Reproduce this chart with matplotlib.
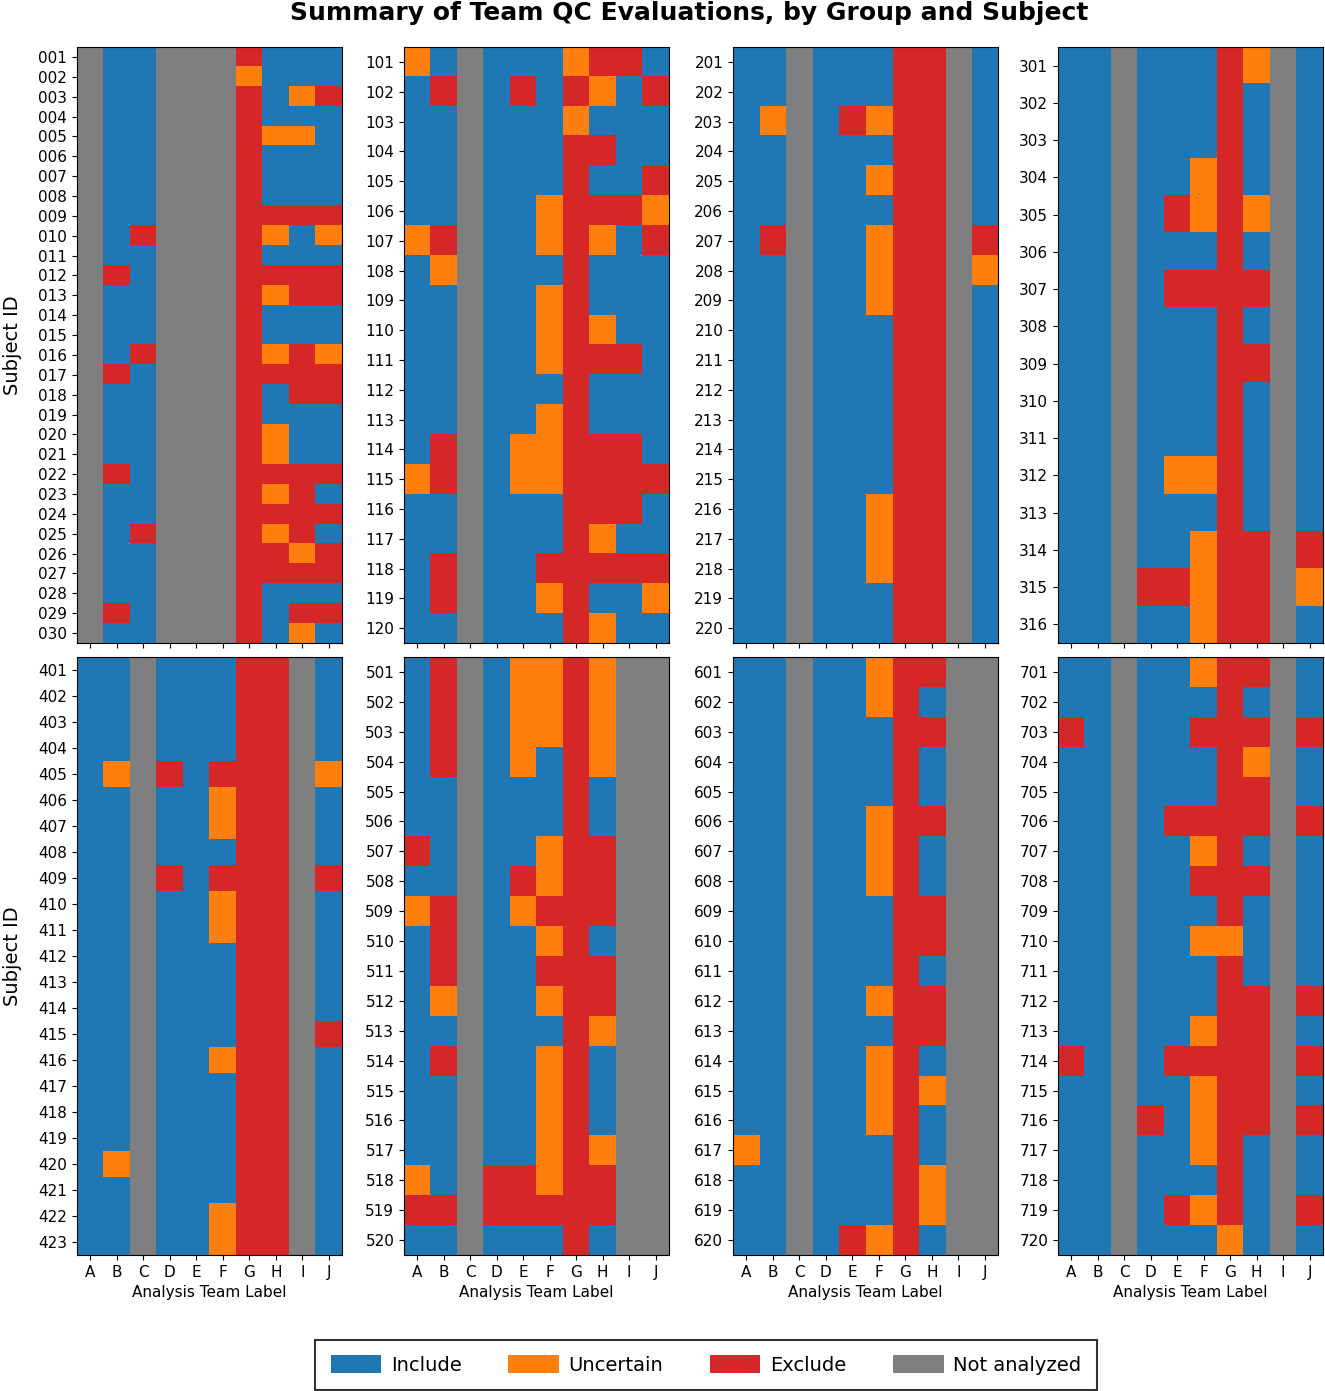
import matplotlib
matplotlib.use("Agg")
import matplotlib.pyplot as plt
import numpy as np
from matplotlib.colors import ListedColormap
from matplotlib.patches import Patch

# QC codes: I = Include, U = Uncertain, X = Exclude, N = Not analyzed
teams = ["A", "B", "C", "D", "E", "F", "G", "H", "I", "J"]
status_names = ["Include", "Uncertain", "Exclude", "Not analyzed"]
status_codes = ["I", "U", "X", "N"]
status_colors = ["#1f77b4", "#ff7f0e", "#d62728", "#7f7f7f"]

group0_ids = list(range(1, 31))
group0 = [
    "NIINNNXIII", "NIINNNUIII", "NIINNNXIUX", "NIINNNXIII", "NIINNNXUUI",
    "NIINNNXIII", "NIINNNXIII", "NIINNNXIII", "NIINNNXXXX", "NIXNNNXUIU",
    "NIINNNXIII", "NXINNNXXXX", "NIINNNXUXX", "NIINNNXIII", "NIINNNXIII",
    "NIXNNNXUXU", "NXINNNXXXX", "NIINNNXIXX", "NIINNNXIII", "NIINNNXUII",
    "NIINNNXUII", "NXINNNXXXX", "NIINNNXUXI", "NIINNNXXXX", "NIXNNNXUXI",
    "NIINNNXXUX", "NIINNNXXXX", "NIINNNXIII", "NXINNNXIXX", "NIINNNXIUI",
]

group1_ids = list(range(101, 121))
group1 = [
    "UINIIIUXXI", "IXNIXIXUIX", "IINIIIUIII", "IINIIIXXII", "IINIIIXIIX",
    "IINIIUXXXU", "UXNIIUXUIX", "IUNIIIXIII", "IINIIUXIII", "IINIIUXUII",
    "IINIIUXXXI", "IINIIIXIII", "IINIIUXIII", "IXNIUUXXXI", "UXNIUUXXXX",
    "IINIIIXXXI", "IINIIIXUII", "IXNIIXXXXX", "IXNIIUXIIU", "IINIIIXUII",
]

group2_ids = list(range(201, 221))
group2 = [
    "IINIIIXXNI", "IINIIIXXNI", "IUNIXUXXNI", "IINIIIXXNI", "IINIIUXXNI",
    "IINIIIXXNI", "IXNIIUXXNX", "IINIIUXXNU", "IINIIUXXNI", "IINIIIXXNI",
    "IINIIIXXNI", "IINIIIXXNI", "IINIIIXXNI", "IINIIIXXNI", "IINIIIXXNI",
    "IINIIUXXNI", "IINIIUXXNI", "IINIIUXXNI", "IINIIIXXNI", "IINIIIXXNI",
]

group3_ids = list(range(301, 317))
group3 = [
    "IINIIIXUNI", "IINIIIXINI", "IINIIIXINI", "IINIIUXINI", "IINIXUXUNI",
    "IINIIIXINI", "IINIXXXXNI", "IINIIIXINI", "IINIIIXXNI", "IINIIIXINI",
    "IINIIIXINI", "IINIUUXINI", "IINIIIXINI", "IINIIUXXNX", "IINXXUXXNU",
    "IINIIUXXNI",
]

group4_ids = list(range(401, 424))
group4 = [
    "IINIIIXXNI", "IINIIIXXNI", "IINIIIXXNI", "IINIIIXXNI", "IUNXIXXXNU",
    "IINIIUXXNI", "IINIIUXXNI", "IINIIIXXNI", "IINXIXXXNX", "IINIIUXXNI",
    "IINIIUXXNI", "IINIIIXXNI", "IINIIIXXNI", "IINIIIXXNI", "IINIIIXXNX",
    "IINIIUXXNI", "IINIIIXXNI", "IINIIIXXNI", "IINIIIXXNI", "IUNIIIXXNI",
    "IINIIIXXNI", "IINIIUXXNI", "IINIIUXXNI",
]

group5_ids = list(range(501, 521))
group5 = [
    "IXNIUUXUNN", "IXNIUUXUNN", "IXNIUUXUNN", "IXNIUIXUNN", "IINIIIXINN",
    "IINIIIXINN", "XINIIUXXNN", "IINIXUXXNN", "UXNIUXXXNN", "IXNIIUXINN",
    "IXNIIXXXNN", "IUNIIUXXNN", "IINIIIXUNN", "IXNIIUXINN", "IINIIUXINN",
    "IINIIUXINN", "IINIIUXUNN", "UINXXUXXNN", "XXNXXXXXNN", "IINIIIXINN",
]

group6_ids = list(range(601, 621))
group6 = [
    "IINIIUXXNN", "IINIIUXINN", "IINIIIXXNN", "IINIIIXINN", "IINIIIXINN",
    "IINIIUXXNN", "IINIIUXINN", "IINIIUXINN", "IINIIIXXNN", "IINIIIXXNN",
    "IINIIIXINN", "IINIIUXXNN", "IINIIIXXNN", "IINIIUXINN", "IINIIUXUNN",
    "IINIIUXINN", "UINIIIXINN", "IINIIIXUNN", "IINIIIXUNN", "IINIXUXINN",
]

group7_ids = list(range(701, 721))
group7 = [
    "IINIIUXXNI", "IINIIIXINI", "XINIIXXXNX", "IINIIIXUNI", "IINIIIXXNI",
    "IINIXXXXNX", "IINIIUXINI", "IINIIXXXNI", "IINIIIXINI", "IINIIUUINI",
    "IINIIIXINI", "IINIIIXXNX", "IINIIUXXNI", "XINIXXXXNX", "IINIIUXXNI",
    "IINXIUXXNX", "IINIIUXINI", "IINIIIXINI", "IINIXUXINX", "IINIIIUINI",
]

groups = [
    (group0_ids, group0), (group1_ids, group1), (group2_ids, group2), (group3_ids, group3),
    (group4_ids, group4), (group5_ids, group5), (group6_ids, group6), (group7_ids, group7),
]

W, H = 1325, 1391
fig = plt.figure(figsize=(W / 100, H / 100), dpi=100)
cmap = ListedColormap(status_colors)

lefts = [77, 404, 733, 1058]
rows_px = [(47, 643), (657, 1255)]
panel_w = 265

for k, (ids, rows) in enumerate(groups):
    r, c = divmod(k, 4)
    top, bottom = rows_px[r]
    ax = fig.add_axes([lefts[c] / W, 1 - bottom / H, panel_w / W, (bottom - top) / H])
    grid = np.array([[status_codes.index(ch) for ch in row] for row in rows])
    ax.imshow(grid, cmap=cmap, vmin=-0.5, vmax=3.5, aspect="auto", interpolation="nearest")
    ax.set_yticks(range(len(ids)))
    ax.set_yticklabels([f"{s:03d}" for s in ids], fontsize=11)
    ax.set_xticks(range(len(teams)))
    if r == 1:
        ax.set_xticklabels(teams, fontsize=11)
        ax.set_xlabel("Analysis Team Label", fontsize=11)
    else:
        ax.set_xticklabels([])
    if c == 0:
        ax.set_ylabel("Subject ID", fontsize=14, labelpad=12)

fig.text(689 / W, 1 - 13 / H, "Summary of Team QC Evaluations, by Group and Subject",
         ha="center", va="center", fontsize=18, fontweight="bold")

handles = [Patch(facecolor=col, label=name) for col, name in zip(status_colors, status_names)]
leg = fig.legend(handles=handles, loc="center", bbox_to_anchor=(706 / W, 1 - 1365 / H),
                 ncol=4, fontsize=14, frameon=True, fancybox=False, edgecolor="black",
                 handlelength=2.6, handleheight=1.0, handletextpad=0.5, columnspacing=2.4,
                 borderpad=0.8)
leg.get_frame().set_linewidth(1.5)

fig.savefig("out.png", dpi=100)
